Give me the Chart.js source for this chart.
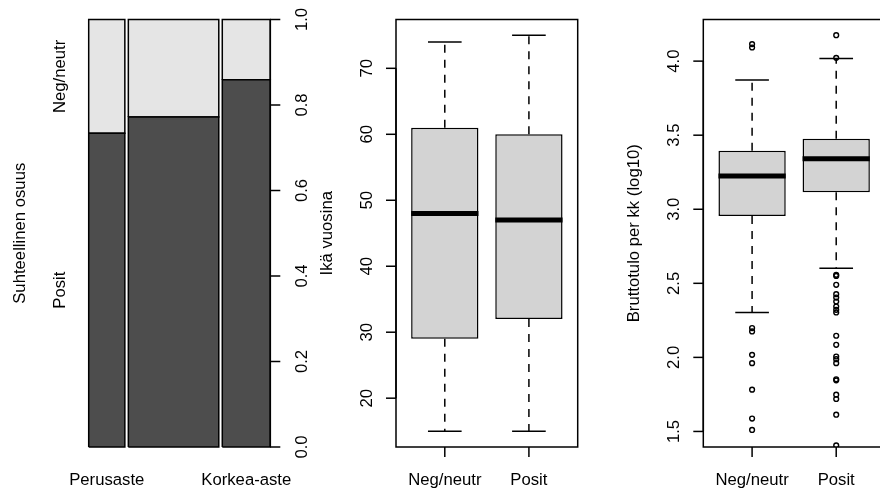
<!DOCTYPE html>
<html>
<head>
<meta charset="utf-8">
<script src="https://cdn.jsdelivr.net/npm/chart.js@4.4.0/dist/chart.umd.min.js"></script>
<style>
body { margin: 0; background: #fff; overflow: hidden; }
#wrap { position: relative; width: 880px; height: 493px; overflow: hidden; background: #fff; }
canvas { position: absolute; left: 0; top: 0; }
</style>
</head>
<body>
<div id="wrap">
<canvas id="chart1" width="880" height="493"></canvas>
<canvas id="chart2" width="880" height="493"></canvas>
<canvas id="chart3" width="900" height="493"></canvas>
</div>
<script>
// panel 1: koulutus vs. mieliala (spineplot)
var eduLabels = ['Perusaste', '', 'Korkea-aste']
var eduShare = [0.207, 0.518, 0.275]
var positShare = [0.734, 0.772, 0.859]
var shareTicks = [0, 0.2, 0.4, 0.6, 0.8, 1]

// panels 2 and 3: groups
var moodGroups = ['Neg/neutr', 'Posit']

// ika vuosina
var ageLow = [15, 15]
var ageQ1 = [29, 32]
var ageMedian = [48, 47]
var ageQ3 = [61, 60]
var ageHigh = [74, 75]
var ageOutliers = [[], []]
var ageTicks = [20, 30, 40, 50, 60, 70]

// bruttotulo per kk (log10)
var incLow = [2.303, 2.602]
var incQ1 = [2.955, 3.114]
var incMedian = [3.225, 3.341]
var incQ3 = [3.395, 3.476]
var incHigh = [3.872, 4.018]
var incOutNeg = [4.115, 4.092, 2.198, 2.175, 2.017, 1.961, 1.782, 1.587, 1.510]
var incOutPos = [4.175, 4.022, 2.557, 2.550, 2.490, 2.427, 2.404, 2.377, 2.343, 2.321, 2.303,
                 2.146, 2.085, 2.006, 1.988, 1.961, 1.852, 1.845, 1.748, 1.719, 1.613, 1.406]
var incTicks = [1.5, 2, 2.5, 3, 3.5, 4]

var FONT = '16.7px "Liberation Sans", Arial, sans-serif'
var LW = 1.5
var TICK = 10
var dark = '#4d4d4d'
var light = '#e5e5e5'
var boxFill = '#d3d3d3'

function setTicks(values) {
    return function(scale) {
        scale.ticks = values.map(function(v) { return {value: v} })
    }
}

function rotText(ctx, text, x, y) {
    ctx.save()
    ctx.translate(x, y)
    ctx.rotate(-Math.PI / 2)
    ctx.textAlign = 'center'
    ctx.textBaseline = 'alphabetic'
    ctx.fillText(text, 0, 0)
    ctx.restore()
}

function line(ctx, x0, y0, x1, y1) {
    ctx.beginPath()
    ctx.moveTo(x0, y0)
    ctx.lineTo(x1, y1)
    ctx.stroke()
}

// R style axes, frame and labels
var rAxes = {
    id: 'rAxes',
    afterDraw: function(chart, args, o) {
        var ctx = chart.ctx
        var a = chart.chartArea
        var xs = chart.scales.x, ys = chart.scales.y
        ctx.save()
        ctx.strokeStyle = '#000'
        ctx.fillStyle = '#000'
        ctx.lineWidth = LW
        ctx.font = FONT
        if (o.frame) ctx.strokeRect(a.left, a.top, a.right - a.left, a.bottom - a.top)

        var ax = o.side == 'right' ? a.right : a.left
        var dir = o.side == 'right' ? 1 : -1
        var t = ys.ticks
        line(ctx, ax, ys.getPixelForValue(t[0].value), ax, ys.getPixelForValue(t[t.length - 1].value))
        for (var i = 0; i < t.length; i++) {
            var py = ys.getPixelForValue(t[i].value)
            line(ctx, ax, py, ax + dir * TICK, py)
            rotText(ctx, o.format(t[i].value), ax + dir * o.labelGap, py)
        }
        if (o.groupLabels) {
            for (i = 0; i < o.groupLabels.length; i++) {
                rotText(ctx, o.groupLabels[i].text, a.left - 24, ys.getPixelForValue(o.groupLabels[i].value))
            }
        }
        rotText(ctx, o.title, a.left - 64, (a.top + a.bottom) / 2)

        ctx.textAlign = 'center'
        ctx.textBaseline = 'alphabetic'
        for (i = 0; i < xs.ticks.length; i++) {
            var px = xs.getPixelForValue(xs.ticks[i].value)
            if (o.xTickMarks) line(ctx, px, a.bottom, px, a.bottom + TICK)
            ctx.fillText(o.xLabels[i], px, a.bottom + 37.5)
        }
        ctx.restore()
    }
}

// spineplot rectangles
function rect(x0, x1, y0, y1, color) {
    return {
        type: 'scatter',
        showLine: true,
        fill: 'shape',
        data: [{x: x0, y: y0}, {x: x1, y: y0}, {x: x1, y: y1}, {x: x0, y: y1}, {x: x0, y: y0}],
        backgroundColor: color,
        borderColor: '#000',
        borderWidth: LW,
        pointRadius: 0,
        clip: false
    }
}

var gap = 0.02
var spineSets = []
var spineCenters = []
var start = 0
for (var i = 0; i < eduShare.length; i++) {
    var x0 = start, x1 = start + eduShare[i]
    spineSets.push(rect(x0, x1, 0, positShare[i], dark))
    spineSets.push(rect(x0, x1, positShare[i], 1, light))
    spineCenters.push((x0 + x1) / 2)
    start = x1 + gap
}
var spineMax = start - gap

new Chart(document.getElementById('chart1'), {
    type: 'scatter',
    data: { datasets: spineSets },
    options: {
        responsive: false,
        animation: false,
        layout: { padding: { left: 88.7, right: 880 - 270.3, top: 19.5, bottom: 46 } },
        scales: {
            x: { type: 'linear', display: false, min: 0, max: spineMax, afterBuildTicks: setTicks(spineCenters) },
            y: { type: 'linear', display: false, min: 0, max: 1, afterBuildTicks: setTicks(shareTicks) }
        },
        plugins: {
            legend: { display: false },
            tooltip: { enabled: false },
            rAxes: {
                side: 'right', labelGap: 36.7,
                format: function(v) { return v.toFixed(1) },
                groupLabels: [
                    { text: 'Posit', value: positShare[0] / 2 },
                    { text: 'Neg/neutr', value: (positShare[0] + 1) / 2 }
                ],
                title: 'Suhteellinen osuus',
                xLabels: eduLabels, xTickMarks: false, frame: false
            }
        }
    },
    plugins: [rAxes]
});

// box plots
function seg(x0, y0, x1, y1, extra) {
    var ds = {
        type: 'line',
        data: [{x: x0, y: y0}, {x: x1, y: y1}],
        borderColor: '#000',
        borderWidth: LW,
        pointRadius: 0,
        fill: false,
        clip: false,
        order: 3
    }
    for (var k in extra) ds[k] = extra[k]
    return ds
}

function boxChart(id, padLeft, canvasWidth, yMin, yMax, yTicks, fmt, title, low, q1, med, q3, high, outliers) {
    var sets = [{
        type: 'bar',
        data: moodGroups.map(function(g, i) { return {x: i + 1, y: [q1[i], q3[i]]} }),
        backgroundColor: boxFill,
        borderColor: '#000',
        borderWidth: LW,
        borderSkipped: false,
        barPercentage: 0.8,
        categoryPercentage: 1,
        order: 4
    }]
    for (var i = 0; i < moodGroups.length; i++) {
        var x = i + 1
        sets.push(seg(x, q3[i], x, high[i], {borderDash: [8, 7]}))
        sets.push(seg(x, q1[i], x, low[i], {borderDash: [8, 7]}))
        sets.push(seg(x - 0.2, high[i], x + 0.2, high[i]))
        sets.push(seg(x - 0.2, low[i], x + 0.2, low[i]))
        sets.push(seg(x - 0.4, med[i], x + 0.4, med[i], {borderWidth: 5, borderCapStyle: 'butt', order: 2}))
        sets.push({
            type: 'scatter',
            data: outliers[i].map(function(v) { return {x: x, y: v} }),
            pointRadius: 2.4,
            pointBorderWidth: 1.4,
            pointBorderColor: '#000',
            pointBackgroundColor: 'rgba(0,0,0,0)',
            order: 1
        })
    }
    new Chart(document.getElementById(id), {
        type: 'scatter',
        data: { datasets: sets },
        options: {
            responsive: false,
            animation: false,
            layout: { padding: { left: padLeft, right: canvasWidth - (padLeft + 181.7), top: 19.5, bottom: 46 } },
            scales: {
                x: { type: 'linear', display: false, offset: false, min: 0.42, max: 2.58, afterBuildTicks: setTicks([1, 2]) },
                y: { type: 'linear', display: false, min: yMin, max: yMax, afterBuildTicks: setTicks(yTicks) }
            },
            plugins: {
                legend: { display: false },
                tooltip: { enabled: false },
                rAxes: {
                    side: 'left', labelGap: 24, format: fmt, title: title,
                    xLabels: moodGroups, xTickMarks: true, frame: true
                }
            }
        },
        plugins: [rAxes]
    });
}

boxChart('chart2', 396, 880, 12.6, 77.4, ageTicks, function(v) { return String(v) }, 'Ikä vuosina',
    ageLow, ageQ1, ageMedian, ageQ3, ageHigh, ageOutliers)

boxChart('chart3', 703.3, 900, 1.395, 4.281, incTicks, function(v) { return v.toFixed(1) }, 'Bruttotulo per kk (log10)',
    incLow, incQ1, incMedian, incQ3, incHigh, [incOutNeg, incOutPos])
</script>
</body>
</html>
